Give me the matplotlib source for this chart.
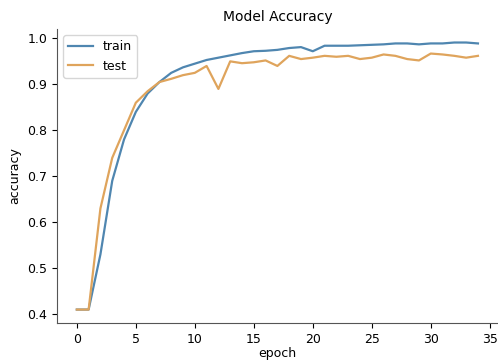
import matplotlib.pyplot as plt

epochs = list(range(35))
train_acc = [0.41, 0.41, 0.53, 0.69, 0.78, 0.84, 0.88, 0.905, 0.925, 0.937,
             0.945, 0.953, 0.958, 0.963, 0.968, 0.972, 0.973, 0.975, 0.979, 0.981,
             0.972, 0.984, 0.984, 0.984, 0.985, 0.986, 0.987, 0.989, 0.989, 0.987,
             0.989, 0.989, 0.991, 0.991, 0.989]
test_acc = [0.41, 0.41, 0.63, 0.74, 0.80, 0.86, 0.885, 0.905, 0.912, 0.92,
            0.925, 0.94, 0.89, 0.95, 0.946, 0.948, 0.952, 0.94, 0.962, 0.955,
            0.958, 0.962, 0.960, 0.962, 0.955, 0.958, 0.965, 0.962, 0.955, 0.952,
            0.967, 0.965, 0.962, 0.958, 0.962]

plt.rcParams['font.size'] = 9

fig = plt.figure(figsize=(4.98, 3.6), dpi=100)
ax = fig.add_axes([0.114, 0.103, 0.886, 0.816])
ax.plot(epochs, train_acc, color='#4f86b0', lw=1.6, label='train')
ax.plot(epochs, test_acc, color='#dfa45c', lw=1.6, label='test')
ax.set_title('Model Accuracy', fontsize=10)
ax.set_xlabel('epoch', labelpad=1)
ax.set_ylabel('accuracy')
ax.set_xticks([0, 5, 10, 15, 20, 25, 30, 35])
ax.spines['top'].set_visible(False)
ax.spines['right'].set_visible(False)
ax.spines['left'].set_color('#555555')
ax.spines['bottom'].set_color('#555555')
ax.legend(loc='upper left')

fig.savefig('out.png', dpi=100)
